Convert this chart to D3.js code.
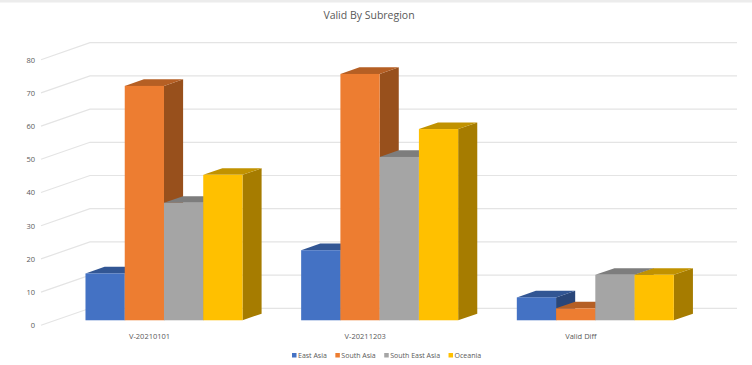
<!DOCTYPE html>
<html>
<head>
<meta charset="utf-8">
<title>Valid By Subregion</title>
<script src="https://cdn.jsdelivr.net/npm/d3@7"></script>
<style>
    html, body { margin: 0; padding: 0; background: #fff; }
    svg { display: block; }
    text { font-family: 'Open Sans', sans-serif; fill: #595959; }
</style>
</head>
<body>
<svg id="chart" width="752" height="365"></svg>
<script>
const categories = ['V-20210101', 'V-20211203', 'Valid Diff'];
const subregions = ['East Asia', 'South Asia', 'South East Asia', 'Oceania'];
const eastAsia = [14.1, 21.1, 6.9];
const southAsia = [70.6, 74.2, 3.6];
const southEastAsia = [35.4, 49.2, 13.7];
const oceania = [43.8, 57.6, 13.7];
const seriesValues = [eastAsia, southAsia, southEastAsia, oceania];
const yTicks = [0, 10, 20, 30, 40, 50, 60, 70, 80];

const frontColors = ['#4472c4', '#ed7d31', '#a5a5a5', '#ffc000'];
const topColors = ['#325694', '#b55f24', '#7d7d7d', '#c19200'];
const sideColors = ['#294679', '#98501c', '#666666', '#a67c00'];

const width = 752, height = 365;
const svg = d3.select('#chart');

// the wall sits 49px right and 17px up from the front edge of the floor
const wallDx = 49, wallDy = -17;
const bar3d = { start: 0.295, depth: 0.39 };
const floorShift = wallDx * bar3d.start;

const y = d3.scaleLinear().domain([0, 80]).range([325.3, 59.7]);
const x0 = d3.scaleBand()
    .domain(categories)
    .range([41.7 + floorShift, 41.7 + floorShift + 647])
    .paddingInner(0.272)
    .paddingOuter(0.136);
const x1 = d3.scaleBand()
    .domain(subregions)
    .range([0, x0.bandwidth()]);

// top strip of the screenshot
svg.append('rect')
    .attr('x', 0).attr('y', 0)
    .attr('width', width).attr('height', 2.5)
    .attr('fill', '#ececec');

svg.append('text')
    .attr('x', 369)
    .attr('y', 19)
    .attr('text-anchor', 'middle')
    .attr('font-size', '10.5px')
    .text('Valid By Subregion');

// gridlines: one diagonal on the side wall, one across the back wall
const grid = svg.append('g').attr('class', 'grid')
    .attr('fill', 'none')
    .attr('stroke', '#e4e4e4')
    .attr('stroke-width', 1.2);

grid.selectAll('path')
    .data(yTicks)
    .enter().append('path')
        .attr('d', d => `M41,${y(d)}L${41 + wallDx},${y(d) + wallDy}L737,${y(d) + wallDy}`);

const yAxis = svg.append('g')
    .attr('transform', 'translate(35,0)')
    .call(d3.axisLeft(y).tickValues(yTicks).tickSize(0).tickPadding(0));
yAxis.select('.domain').remove();
yAxis.selectAll('text')
    .attr('font-size', '7.5px')
    .style('font-family', "'Open Sans', sans-serif")
    .style('fill', '#595959');

// bars sit inside the floor, not on its front edge
const baseShift = wallDy * bar3d.start;
const barDx = wallDx * bar3d.depth;
const barDy = wallDy * bar3d.depth;

const groups = svg.selectAll('.bar-group')
    .data(categories)
    .enter().append('g')
        .attr('class', 'bar-group')
        .attr('transform', d => `translate(${x0(d)},${baseShift})`);

groups.each(function(category, c) {
    const g = d3.select(this);
    subregions.forEach((name, s) => {
        const value = seriesValues[s][c];
        const left = x1(name);
        const w = x1.bandwidth();
        const top = y(value);
        const bottom = y(0);

        // side face
        g.append('path')
            .attr('d', `M${left + w},${top}L${left + w + barDx},${top + barDy}L${left + w + barDx},${bottom + barDy}L${left + w},${bottom}Z`)
            .attr('fill', sideColors[s]);

        // top face
        g.append('path')
            .attr('d', `M${left},${top}L${left + barDx},${top + barDy}L${left + w + barDx},${top + barDy}L${left + w},${top}Z`)
            .attr('fill', topColors[s]);

        g.append('rect')
            .attr('x', left)
            .attr('y', top)
            .attr('width', w)
            .attr('height', bottom - top)
            .attr('fill', frontColors[s]);
    });
});

// category labels line up with the front edge of the floor, not the bars
const xAxis = svg.append('g')
    .attr('transform', `translate(${-floorShift},333.5)`)
    .call(d3.axisBottom(x0).tickSize(0).tickPadding(0));
xAxis.select('.domain').remove();
xAxis.selectAll('text')
    .attr('font-size', '7.5px')
    .style('font-family', "'Open Sans', sans-serif")
    .style('fill', '#595959');

// legend, laid out from the measured label widths
const legend = svg.append('g').attr('class', 'legend');
let legendX = 292;
subregions.forEach((name, s) => {
    legend.append('rect')
        .attr('x', legendX)
        .attr('y', 353)
        .attr('width', 4.5)
        .attr('height', 4.5)
        .attr('fill', frontColors[s]);
    const label = legend.append('text')
        .attr('x', legendX + 6)
        .attr('y', 358)
        .attr('font-size', '7px')
        .text(name);
    legendX += 6 + label.node().getComputedTextLength() + 8.5;
});
</script>
</body>
</html>
